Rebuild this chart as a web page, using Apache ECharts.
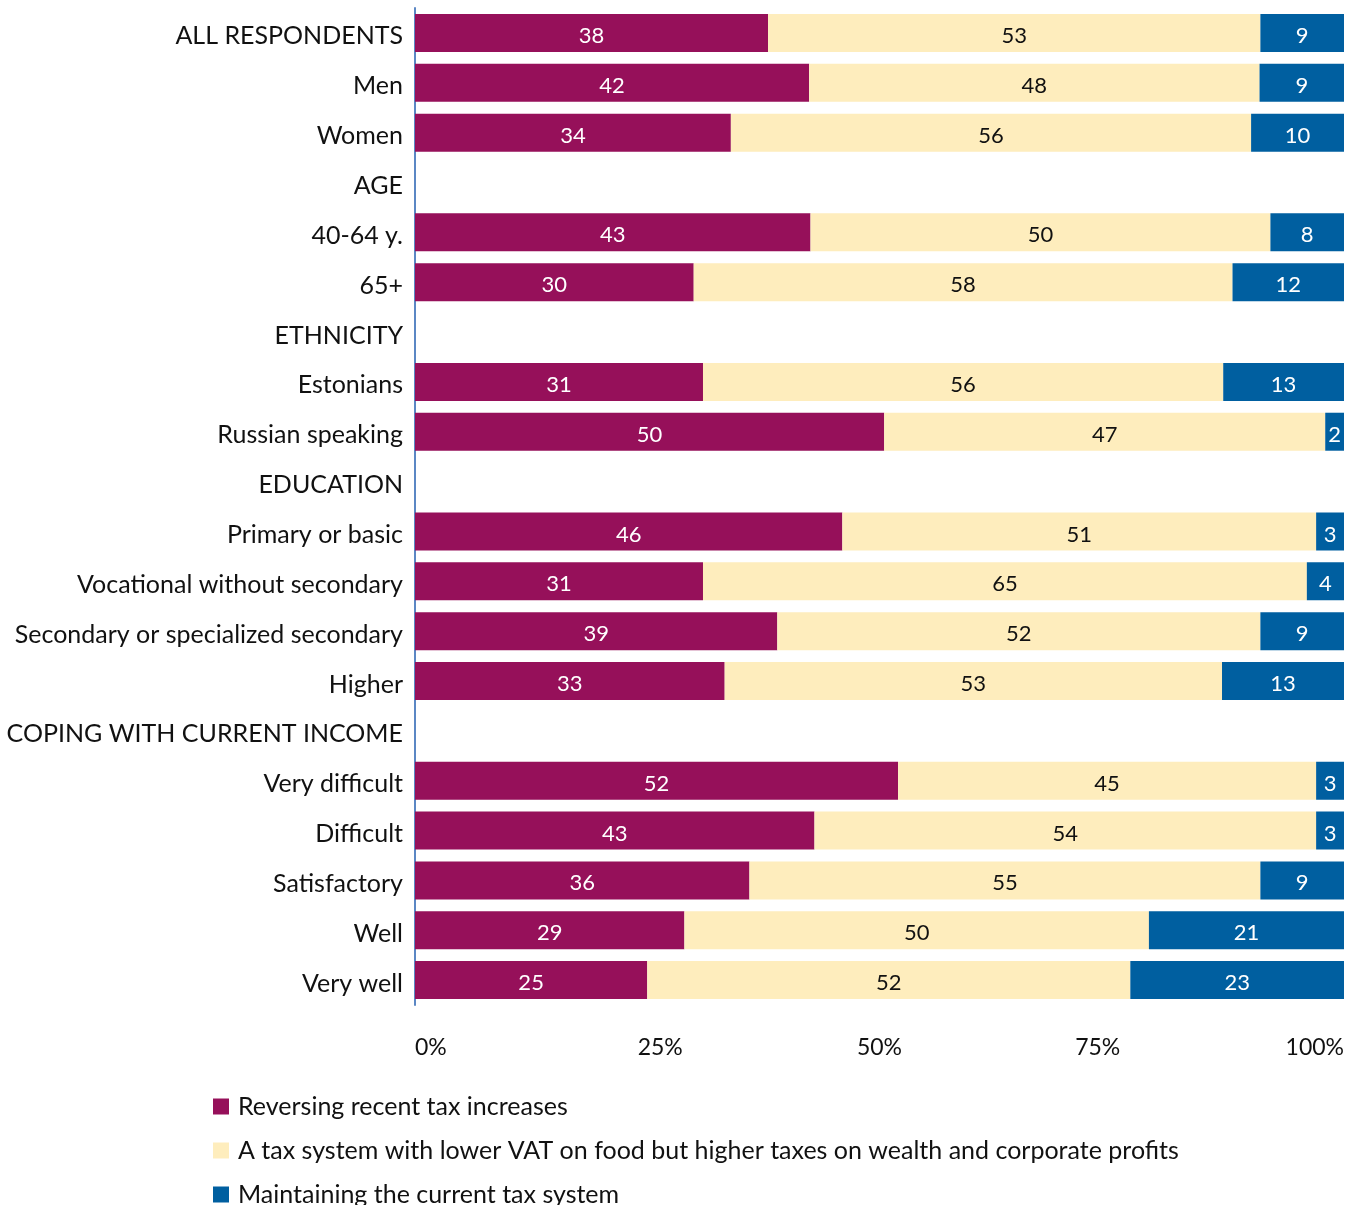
<!DOCTYPE html>
<html>
<head>
<meta charset="utf-8">
<script src="https://cdn.jsdelivr.net/npm/echarts@6/dist/echarts.min.js"></script>
<style>
  html, body { margin: 0; padding: 0; background: #ffffff; }
  #chart { width: 1359px; height: 1205px; }
</style>
</head>
<body>
<div id="chart"></div>
<script>
// Row labels (section headers have no bars)
const categories = [
  'ALL RESPONDENTS', 'Men', 'Women',
  'AGE', '40-64 y.', '65+',
  'ETHNICITY', 'Estonians', 'Russian speaking',
  'EDUCATION', 'Primary or basic', 'Vocational without secondary',
  'Secondary or specialized secondary', 'Higher',
  'COPING WITH CURRENT INCOME', 'Very difficult', 'Difficult',
  'Satisfactory', 'Well', 'Very well'
];

const seriesNames = [
  'Reversing recent tax increases',
  'A tax system with lower VAT on food but higher taxes on wealth and corporate profits',
  'Maintaining the current tax system'
];

// Survey answers, % of respondents in each group
const reversing = [38, 42, 34, null, 43, 30, null, 31, 50, null, 46, 31, 39, 33, null, 52, 43, 36, 29, 25];
const lowerVat  = [53, 48, 56, null, 50, 58, null, 56, 47, null, 51, 65, 52, 53, null, 45, 54, 55, 50, 52];
const keeping   = [ 9,  9, 10, null,  8, 12, null, 13,  2, null,  3,  4,  9, 13, null,  3,  3,  9, 21, 23];

const xTicks = ['0%', '25%', '50%', '75%', '100%'];

const colors = ['#96105A', '#FEEDBD', '#005FA0'];
const labelColors = ['#ffffff', '#111111', '#ffffff'];
const FONT = 'Lato, "Noto Sans", sans-serif';

// Each row is scaled to a full 100% bar; labels keep the reported numbers
const rows = [reversing, lowerVat, keeping];
const totals = categories.map((_, i) =>
  rows.reduce((s, r) => s + (r[i] == null ? 0 : r[i]), 0));

const series = rows.map((arr, k) => ({
  name: seriesNames[k],
  type: 'bar',
  stack: 'total',
  barWidth: 38,
  itemStyle: { color: colors[k] },
  label: {
    show: true,
    position: 'inside',
    offset: [0, 3],
    color: labelColors[k],
    fontFamily: FONT,
    fontSize: 22,
    formatter: p => (p.data && p.data.raw != null ? String(p.data.raw) : '')
  },
  data: arr.map((v, i) => v == null ? { value: null, raw: null }
                                    : { value: v / totals[i] * 100, raw: v })
}));

// inner tick labels sit slightly off their ticks
const tickStyle = ['', 'r', '', 'l', ''];

const chart = echarts.init(document.getElementById('chart'), null, { renderer: 'canvas' });
chart.setOption({
  animation: false,
  backgroundColor: '#ffffff',
  textStyle: { fontFamily: FONT },
  grid: { left: 415, right: 15, top: 8, bottom: 200, containLabel: false },
  legend: {
    orient: 'vertical',
    left: 213,
    top: 1094,
    height: 160,
    padding: 0,
    itemWidth: 16,
    itemHeight: 16,
    itemGap: 19,
    icon: 'rect',
    textStyle: {
      fontFamily: FONT, fontSize: 25, lineHeight: 25, color: '#111111',
      padding: [0, 0, 0, 4]
    },
    data: seriesNames
  },
  xAxis: {
    type: 'value',
    min: 0,
    max: 100,
    interval: 25,
    axisLine: { show: false },
    axisTick: { show: false },
    splitLine: { show: false },
    axisLabel: {
      margin: 31,
      fontFamily: FONT,
      fontSize: 23,
      color: '#111111',
      alignMinLabel: 'left',
      alignMaxLabel: 'right',
      formatter: v => {
        const i = Math.round(v / 25);
        return tickStyle[i] ? '{' + tickStyle[i] + '|' + xTicks[i] + '}' : xTicks[i];
      },
      rich: {
        r: { fontFamily: FONT, fontSize: 23, color: '#111111', padding: [0, 0, 0, 26] },
        l: { fontFamily: FONT, fontSize: 23, color: '#111111', padding: [0, 28, 0, 0] }
      }
    }
  },
  yAxis: {
    type: 'category',
    inverse: true,
    data: categories,
    axisTick: { show: false },
    axisLine: { show: true, lineStyle: { color: '#5B87C4', width: 2 } },
    axisLabel: {
      margin: 12,
      fontFamily: FONT,
      fontSize: 25,
      color: '#111111',
      formatter: v => '{c|' + v + '}',
      rich: {
        c: { fontFamily: FONT, fontSize: 25, color: '#111111', padding: [7, 0, 0, 0] }
      }
    }
  },
  series: series
});
</script>
</body>
</html>
